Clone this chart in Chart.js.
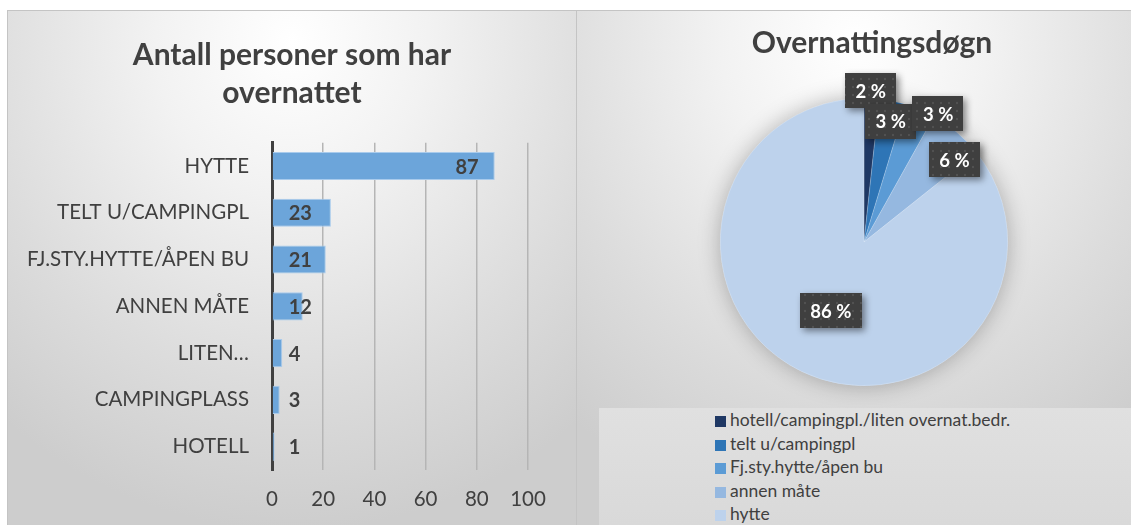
<!DOCTYPE html>
<html>
<head>
<meta charset="utf-8">
<script src="https://cdn.jsdelivr.net/npm/chart.js@4.4.1/dist/chart.umd.min.js"></script>
<style>
  html, body { margin: 0; padding: 0; background: #ffffff; }
  body { width: 1131px; height: 525px; position: relative; overflow: hidden; font-family: Lato, "Noto Sans", sans-serif; }
  .panel {
    position: absolute; top: 10px; height: 515px; box-sizing: border-box;
    border-top: 1px solid #c4c4c4; border-left: 1px solid #c4c4c4;
    background: radial-gradient(ellipse 80% 95% at 50% 6%, #ffffff 0%, #f2f2f2 30%, #dcdcdc 70%, #cdcdcd 100%);
  }
  #leftPanel { left: 7px; width: 569px; }
  #rightPanel { left: 576px; width: 555px; }
  .panel canvas { position: absolute; left: 0; top: 0; }
  #legend {
    position: absolute; left: 599px; top: 408px; width: 532px; height: 117px;
    background: linear-gradient(180deg, #e0e0e0 0%, #d9d9d9 100%);
    box-sizing: border-box; padding-left: 116px; padding-top: 0px;
  }
  .lg-row { height: 23.6px; line-height: 23.6px; font-size: 17.5px; color: #404040; white-space: nowrap; }
  .lg-sw { display: inline-block; width: 11px; height: 11px; margin-right: 4px; vertical-align: -1px; }
</style>
</head>
<body>
<div class="panel" id="leftPanel"><canvas id="barChart"></canvas></div>
<div class="panel" id="rightPanel"><canvas id="pieChart"></canvas></div>
<div id="legend"></div>
<script>
// ---------- data ----------
const barTitle = ['Antall personer som har', 'overnattet'];
const barCategories = ['HYTTE', 'TELT U/CAMPINGPL', 'FJ.STY.HYTTE/ÅPEN BU', 'ANNEN MÅTE', 'LITEN…', 'CAMPINGPLASS', 'HOTELL'];
const barValues = [87, 23, 21, 12, 4, 3, 1];
const barTicks = [0, 20, 40, 60, 80, 100];

const pieTitle = 'Overnattingsdøgn';
const pieLabels = ['hotell/campingpl./liten overnat.bedr.', 'telt u/campingpl', 'Fj.sty.hytte/åpen bu', 'annen måte', 'hytte'];
const pieValues = [1.7, 3.0, 3.4, 6.2, 85.7];
const pieColors = ['#1f3864', '#2e75b6', '#5b9bd5', '#95b8e0', '#bdd2ec'];

// ---------- common ----------
const FONT = 'Lato, "Noto Sans", sans-serif';
const TXT = '#404040';

function sizeCanvas(id, w, h) {
  const c = document.getElementById(id);
  c.width = w; c.height = h; c.style.width = w + 'px'; c.style.height = h + 'px';
  return c;
}

// re-span the title block horizontally (so it is centred on the panel, not on the padded area)
function titleSpan(left, right) {
  return {
    id: 'titleSpan',
    afterLayout(chart) {
      const t = chart.titleBlock;
      if (!t) return;
      t.left = left;
      t.right = right === null ? chart.width : right;
      t.width = t.right - t.left;
    }
  };
}

// bar value labels
const barLabelPlugin = {
  id: 'barLabels',
  afterDatasetsDraw(chart) {
    const ctx = chart.ctx;
    const meta = chart.getDatasetMeta(0);
    const vals = chart.data.datasets[0].data;
    ctx.save();
    ctx.font = 'bold 20px ' + FONT;
    ctx.fillStyle = TXT;
    ctx.textBaseline = 'middle';
    meta.data.forEach((el, i) => {
      const len = el.x - el.base;
      if (len > 100) {
        ctx.textAlign = 'right';
        ctx.fillText(String(vals[i]), el.x - 16, el.y + 1);
      } else {
        ctx.textAlign = 'left';
        ctx.fillText(String(vals[i]), el.base + 16, el.y + 1);
      }
    });
    ctx.restore();
  }
};

// bar chart
const barCanvas = sizeCanvas('barChart', 568, 514);
new Chart(barCanvas, {
  type: 'bar',
  data: {
    labels: barCategories,
    datasets: [{
      data: barValues,
      backgroundColor: '#6ca5da',
      borderColor: '#a9cbec',
      borderWidth: 1,
      categoryPercentage: 1.0,
      barPercentage: 0.6
    }]
  },
  options: {
    indexAxis: 'y',
    responsive: false,
    animation: false,
    layout: { padding: { left: 0, right: 48, top: 0, bottom: 0 } },
    plugins: {
      legend: { display: false },
      tooltip: { enabled: false },
      title: {
        display: true,
        text: barTitle,
        color: TXT,
        font: { family: FONT, size: 30, weight: 'bold', lineHeight: 1.27 },
        padding: { top: 25, bottom: 30.5 }
      }
    },
    scales: {
      x: {
        min: 0, max: 100,
        afterBuildTicks(axis) { axis.ticks = barTicks.map(v => ({ value: v })); },
        ticks: { color: TXT, font: { family: FONT, size: 20.5 }, padding: 17 },
        grid: { color: '#b5b5b5', lineWidth: 1.5, drawTicks: false },
        border: { display: false },
        afterFit(scale) { scale.height = 55; }
      },
      y: {
        ticks: { color: TXT, font: { family: FONT, size: 20.5 }, padding: 23 },
        grid: { display: false, drawTicks: false },
        border: { display: true, color: '#404040', width: 3 },
        afterFit(scale) { scale.width = 264; }
      }
    }
  },
  plugins: [barLabelPlugin, titleSpan(0, null)]
});

// pie: shadow + labels
const pieShadowPlugin = {
  id: 'pieShadow',
  beforeDatasetsDraw(chart) {
    const arc = chart.getDatasetMeta(0).data[0];
    if (!arc) return;
    const ctx = chart.ctx;
    ctx.save();
    ctx.shadowColor = 'rgba(0,0,0,0.28)';
    ctx.shadowBlur = 22;
    ctx.shadowOffsetX = 0;
    ctx.shadowOffsetY = 0;
    ctx.fillStyle = pieColors[pieColors.length - 1];
    ctx.beginPath();
    ctx.arc(arc.x, arc.y, arc.outerRadius, 0, Math.PI * 2);
    ctx.fill();
    ctx.restore();
  }
};

// label placement per slice: [radius factor, angle tweak in degrees]
const pieLabelPlace = [[1.055, -0.5], [0.86, 1.0], [1.03, 7], [0.85, 7.4], [0.53, 0]];

function makeDotPattern(ctx) {
  const p = document.createElement('canvas');
  p.width = 8; p.height = 8;
  const pc = p.getContext('2d');
  pc.fillStyle = '#3f3f3f';
  pc.fillRect(0, 0, 8, 8);
  pc.fillStyle = 'rgba(255,255,255,0.10)';
  pc.beginPath(); pc.arc(4, 4, 1.2, 0, Math.PI * 2); pc.fill();
  return ctx.createPattern(p, 'repeat');
}

const pieLabelPlugin = {
  id: 'pieLabels',
  afterDatasetsDraw(chart) {
    const ctx = chart.ctx;
    const meta = chart.getDatasetMeta(0);
    const vals = chart.data.datasets[0].data;
    const total = vals.reduce((a, b) => a + b, 0);
    const pattern = makeDotPattern(ctx);
    ctx.save();
    ctx.font = 'bold 18.5px ' + FONT;
    meta.data.forEach((arc, i) => {
      const place = pieLabelPlace[i];
      const a = (arc.startAngle + arc.endAngle) / 2 + place[1] * Math.PI / 180;
      const r = arc.outerRadius * place[0];
      const cx = arc.x + r * Math.cos(a);
      const cy = arc.y + r * Math.sin(a);
      const txt = Math.round(vals[i] / total * 100) + ' %';
      const w = ctx.measureText(txt).width + 21;
      const h = 35;
      ctx.save();
      ctx.shadowColor = 'rgba(0,0,0,0.45)';
      ctx.shadowBlur = 7;
      ctx.shadowOffsetX = 3;
      ctx.shadowOffsetY = 3;
      ctx.fillStyle = pattern;
      ctx.fillRect(Math.round(cx - w / 2), Math.round(cy - h / 2), Math.round(w), h);
      ctx.restore();
      ctx.fillStyle = '#ffffff';
      ctx.textAlign = 'center';
      ctx.textBaseline = 'middle';
      ctx.fillText(txt, cx, cy + 1);
    });
    ctx.restore();
  }
};

const pieCanvas = sizeCanvas('pieChart', 554, 514);
const pieChart = new Chart(pieCanvas, {
  type: 'pie',
  data: {
    labels: pieLabels,
    datasets: [{
      data: pieValues,
      backgroundColor: pieColors,
      borderColor: 'rgba(255,255,255,0.35)',
      borderWidth: 0.6
    }]
  },
  options: {
    responsive: false,
    animation: false,
    layout: { padding: { left: 143, right: 123, top: 0, bottom: 139 } },
    plugins: {
      legend: { display: false },
      tooltip: { enabled: false },
      title: {
        display: true,
        text: pieTitle,
        color: TXT,
        font: { family: FONT, size: 30, weight: 'bold', lineHeight: 1.2 },
        padding: { top: 14, bottom: 37 }
      }
    }
  },
  plugins: [pieShadowPlugin, pieLabelPlugin, titleSpan(36, 554)]
});

// HTML legend built from the pie chart data
const lg = document.getElementById('legend');
pieChart.data.labels.forEach((lab, i) => {
  const row = document.createElement('div');
  row.className = 'lg-row';
  const sw = document.createElement('span');
  sw.className = 'lg-sw';
  sw.style.background = pieChart.data.datasets[0].backgroundColor[i];
  row.appendChild(sw);
  row.appendChild(document.createTextNode(lab));
  lg.appendChild(row);
});
</script>
</body>
</html>
